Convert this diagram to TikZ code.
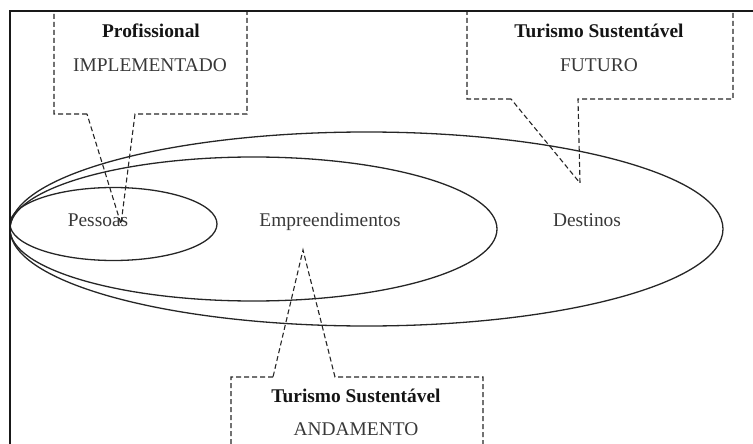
\documentclass[tikz,border=0pt]{standalone}
\usepackage{fontspec}
\setmainfont{Liberation Serif}
\begin{document}
\begin{tikzpicture}[x=1pt,y=-1pt,
  lbl/.style={anchor=base,inner sep=0pt,font=\fontsize{19.4}{22}\selectfont,text=black!78},
  ttl/.style={anchor=base,inner sep=0pt,font=\fontsize{19.4}{22}\selectfont\bfseries,text=black!92},
  ring/.style={draw=black!85,line width=1.3pt},
  callout/.style={draw=black!85,line width=1.1pt,dash pattern=on 5pt off 3pt},
  frame/.style={draw=black!90,line width=2pt}]
\useasboundingbox (0,0) rectangle (753,444);
\begin{scope}
\clip (0,0) rectangle (753,444);

% nested scopes: destinations, enterprises, people
\draw[ring] (366.5,229) ellipse [x radius=356.5, y radius=97];
\draw[ring] (253.5,229) ellipse [x radius=243.5, y radius=72];
\draw[ring] (113.5,224) ellipse [x radius=103.5, y radius=36.5];

\node[lbl] (pessoas) at (98,226) {Pessoas};
\node[lbl] (empre) at (330,226) {Empreendimentos};
\node[lbl] (dest) at (587,226) {Destinos};

% callout: professional level
\coordinate (pA) at (87,114);
\coordinate (pB) at (135,114);
\coordinate (pTip) at (121,224);
\draw[callout] (pA) -- (54,114) -- (54,11) -- (247,11) -- (247,114) -- (pB) -- (pTip) -- cycle;
\node[ttl] (prof) at (151,38) {Profissional};
\node[lbl] (impl) at (150,72) {IMPLEMENTADO};

% callout: future
\coordinate (fA) at (511,99);
\coordinate (fB) at (578,99);
\coordinate (fTip) at (580,183);
\draw[callout] (fA) -- (467,99) -- (467,11) -- (733,11) -- (733,99) -- (fB) -- (fTip) -- cycle;
\node[ttl] (turF) at (599,38) {Turismo Sustentável};
\node[lbl] (futuro) at (599,72) {FUTURO};

% callout: in progress
\coordinate (aA) at (273,377);
\coordinate (aB) at (335,377);
\coordinate (aTip) at (303,250);
\draw[callout] (aA) -- (231,377) -- (231,460) -- (483,460) -- (483,377) -- (aB) -- (aTip) -- cycle;
\node[ttl] (turA) at (356,402) {Turismo Sustentável};
\node[lbl] (andam) at (356,435) {ANDAMENTO};

% outer frame
\draw[frame] (760,11) -- (10,11) -- (10,460);
\end{scope}
\end{tikzpicture}
\end{document}
